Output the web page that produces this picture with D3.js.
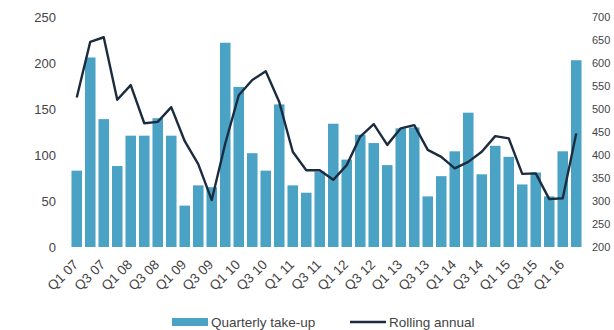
<!DOCTYPE html>
<html>
<head>
<meta charset="utf-8">
<script src="https://cdn.jsdelivr.net/npm/d3@7/dist/d3.min.js"></script>
<style>
  html, body { margin: 0; padding: 0; background: #fff; }
  svg { display: block; }
  text { font-family: "Liberation Sans", Arial, sans-serif; fill: #444; }
</style>
</head>
<body>
<svg id="chart" width="614" height="330"></svg>
<script>
// Quarters Q1 07 .. Q2 16
const quarters = [
  "Q1 07","Q2 07","Q3 07","Q4 07","Q1 08","Q2 08","Q3 08","Q4 08",
  "Q1 09","Q2 09","Q3 09","Q4 09","Q1 10","Q2 10","Q3 10","Q4 10",
  "Q1 11","Q2 11","Q3 11","Q4 11","Q1 12","Q2 12","Q3 12","Q4 12",
  "Q1 13","Q2 13","Q3 13","Q4 13","Q1 14","Q2 14","Q3 14","Q4 14",
  "Q1 15","Q2 15","Q3 15","Q4 15","Q1 16","Q2 16"
];

// Quarterly take-up (left axis)
const quarterlyTakeUp = [
  83, 206, 139, 88, 121, 121, 140, 121,
  45, 67, 65, 222, 174, 102, 83, 155,
  67, 59, 82, 134, 95, 122, 113, 89,
  129, 130, 55, 77, 104, 146, 79, 110,
  98, 68, 81, 55, 104, 203
];

// Rolling annual total (right axis)
const rollingAnnual = [
  525, 646, 656, 520, 552, 469, 472, 504,
  430, 380, 302, 425, 530, 563, 582, 515,
  407, 367, 367, 346, 378, 440, 467, 422,
  458, 465, 411, 396, 371, 385, 407, 441,
  436, 359, 360, 304, 306, 447
];

const leftTicks = [0, 50, 100, 150, 200, 250];
const rightTicks = [200, 250, 300, 350, 400, 450, 500, 550, 600, 650, 700];

const series = ["Quarterly take-up", "Rolling annual"];

const svg = d3.select("#chart");
const barColor = "#4aa3c4";
const lineColor = "#1c2c3e";
const font = "'Liberation Sans', Arial, sans-serif";

const x = d3.scaleBand()
  .domain(quarters)
  .range([70, 583])
  .paddingInner(0.22)
  .paddingOuter(0.11);

const yL = d3.scaleLinear().domain([0, 250]).range([247, 17]);
const yR = d3.scaleLinear().domain([200, 700]).range([247, 17]);

// Bars
svg.append("g")
  .selectAll("rect")
  .data(quarters)
  .join("rect")
  .attr("x", d => x(d))
  .attr("width", x.bandwidth())
  .attr("y", (d, i) => yL(quarterlyTakeUp[i]))
  .attr("height", (d, i) => yL(0) - yL(quarterlyTakeUp[i]))
  .attr("fill", barColor);

// Rolling annual line
const line = d3.line()
  .x((d, i) => x(quarters[i]) + x.bandwidth() / 2)
  .y(d => yR(d));

svg.append("path")
  .datum(rollingAnnual)
  .attr("d", line)
  .attr("fill", "none")
  .attr("stroke", lineColor)
  .attr("stroke-width", 2.4)
  .attr("stroke-linejoin", "round");

// Left axis (labels only)
const axL = svg.append("g")
  .attr("transform", "translate(56,0)")
  .call(d3.axisLeft(yL).tickValues(leftTicks).tickSize(0).tickPadding(0));
axL.select(".domain").remove();
axL.selectAll("text").style("font-size", "13px").attr("fill", "#444")
  .style("font-family", font);

// Right axis (labels only)
const axR = svg.append("g")
  .attr("transform", "translate(592,0)")
  .call(d3.axisRight(yR).tickValues(rightTicks).tickSize(0).tickPadding(0));
axR.select(".domain").remove();
axR.selectAll("text").style("font-size", "11px").attr("fill", "#444")
  .style("font-family", font);

// Category labels every second quarter, rotated
const labelled = quarters.filter((q, i) => i % 2 === 0);
svg.append("g")
  .selectAll("text")
  .data(labelled)
  .join("text")
  .attr("transform", d => `translate(${x(d) + x.bandwidth() / 2 - 1},${262}) rotate(-45)`)
  .attr("text-anchor", "end")
  .attr("dy", "0.35em")
  .style("font-size", "13.5px")
  .text(d => d);

// Legend
const lg = svg.append("g");
lg.append("rect")
  .attr("x", 172).attr("y", 318).attr("width", 36).attr("height", 8)
  .attr("fill", barColor);
lg.append("text")
  .attr("x", 211).attr("y", 326.5)
  .style("font-size", "13.5px")
  .text(series[0]);
lg.append("line")
  .attr("x1", 350).attr("x2", 386).attr("y1", 322).attr("y2", 322)
  .attr("stroke", lineColor).attr("stroke-width", 2.4);
lg.append("text")
  .attr("x", 389).attr("y", 326.5)
  .style("font-size", "13.5px")
  .text(series[1]);
</script>
</body>
</html>
